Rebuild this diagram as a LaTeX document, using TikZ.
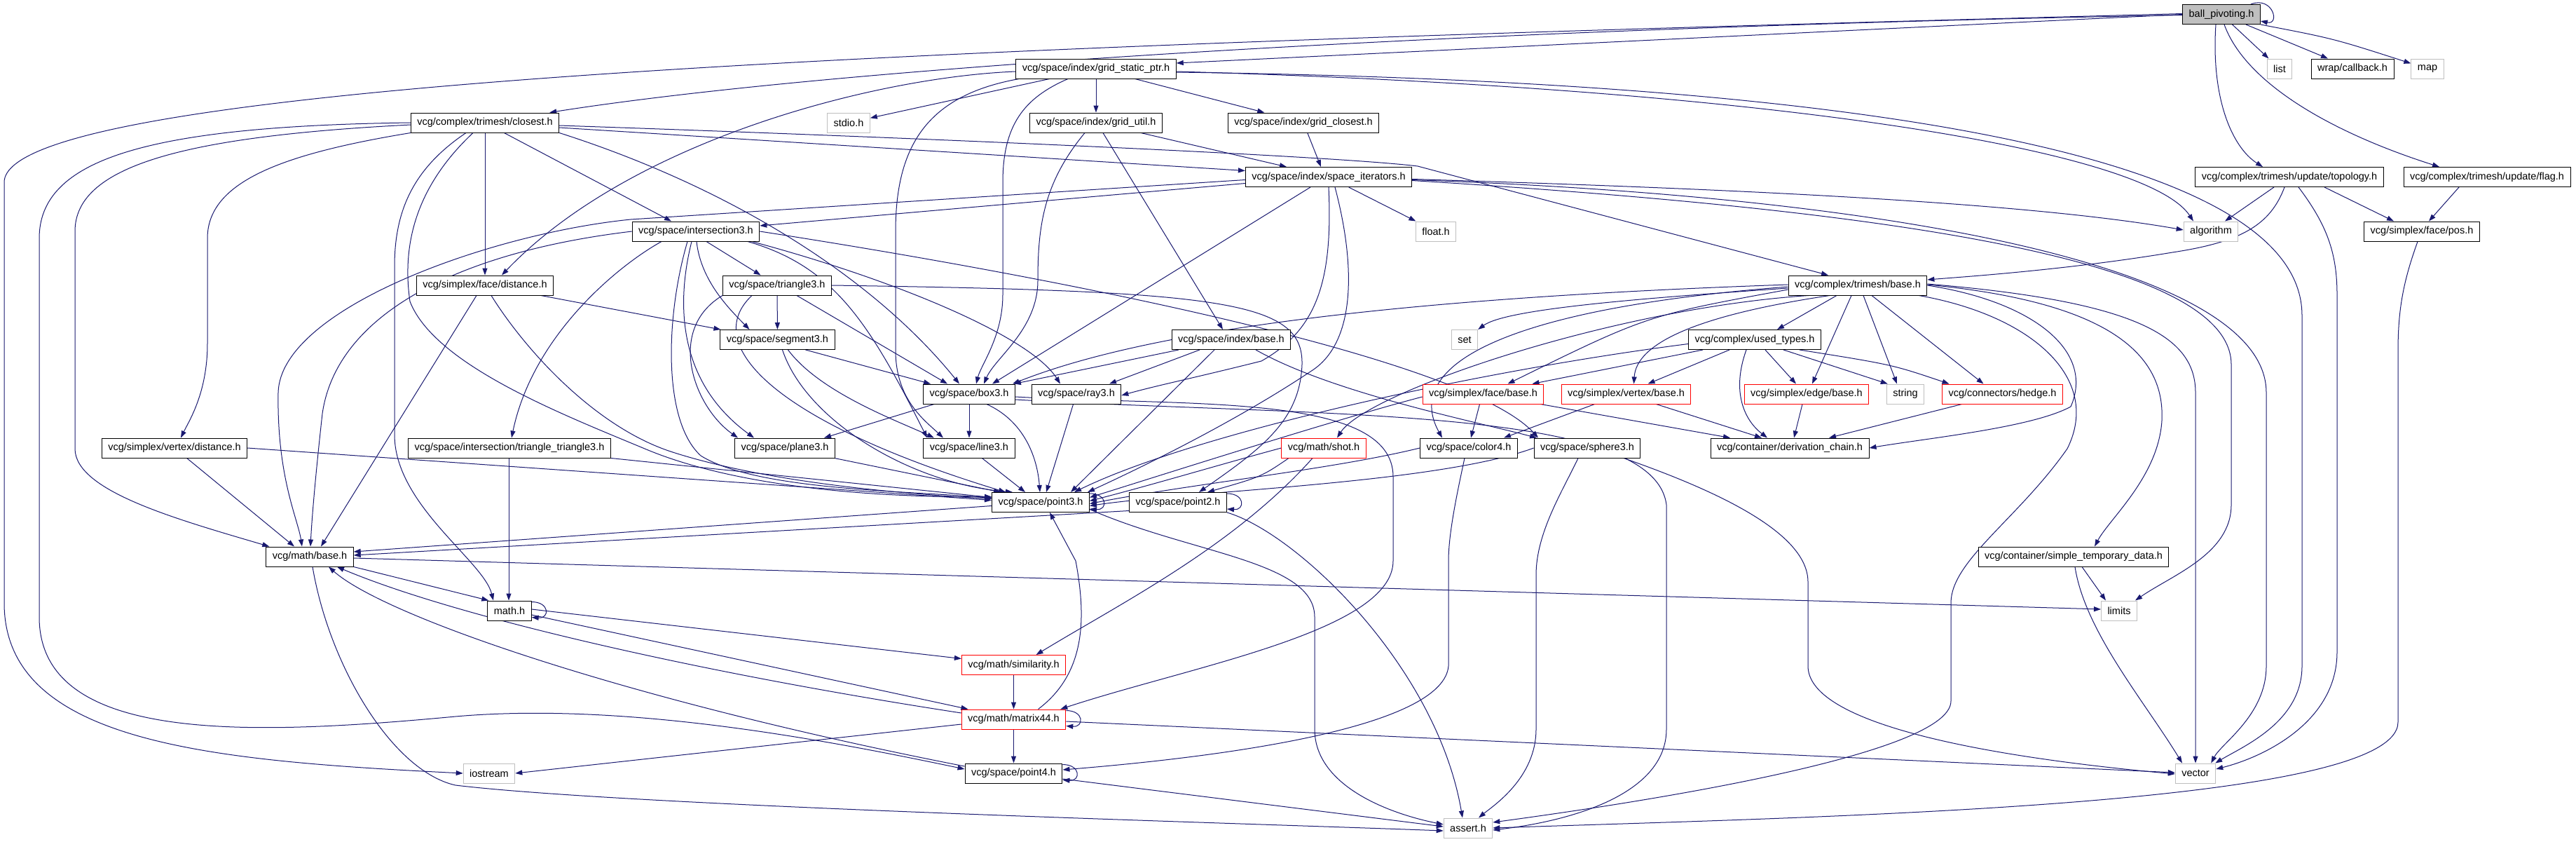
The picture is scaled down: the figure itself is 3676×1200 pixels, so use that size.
\documentclass[tikz,border=0pt]{standalone}
\usepackage{fontspec}
\setmainfont{Liberation Sans}
\usetikzlibrary{arrows.meta}
\definecolor{edgec}{HTML}{191970}
\definecolor{grayb}{HTML}{BFBFBF}
\definecolor{redb}{HTML}{FF0000}
\pgfdeclarelayer{bglayer}
\pgfdeclarelayer{edgelayer}
\pgfsetlayers{bglayer,edgelayer,main}
\tikzset{
  hbox/.style={draw=black, line width=1pt, fill=white, minimum height=28pt, inner xsep=9pt, inner ysep=0pt, font=\fontsize{14.5}{16}\selectfont},
  sysbox/.style={hbox, draw=grayb},
  trbox/.style={hbox, draw=redb},
  rootbox/.style={hbox, fill=grayb},
  dep/.style={draw=edgec, line width=1pt, -{Triangle[length=10pt,width=7pt]}},
}
\newcommand{\selfloopat}[1]{\draw[dep] ([yshift=-2pt]#1.north east) .. controls +(26,0) and +(26,2) .. ([yshift=5pt]#1.south east);}
\begin{document}
\begin{tikzpicture}[x=1pt,y=-1pt]
\begin{pgfonlayer}{bglayer}
\fill[white] (0,0) rectangle (3676,1200);
\end{pgfonlayer}
\useasboundingbox (0,0) rectangle (3676,1200);
% ---------- nodes ----------
\node[rootbox] (bp) at (3170,20.5) {ball\_pivoting.h};
\node[sysbox] (list) at (3253,98) {list};
\node[hbox] (callback) at (3357,98) {wrap/callback.h};
\node[sysbox] (map) at (3464,98) {map};
\node[hbox] (gsp) at (1564,98) {vcg/space/index/grid\_static\_ptr.h};
\node[hbox] (closest) at (692,175) {vcg/complex/trimesh/closest.h};
\node[sysbox] (stdio) at (1211,175) {stdio.h};
\node[hbox] (gridutil) at (1564,175) {vcg/space/index/grid\_util.h};
\node[hbox] (gridclosest) at (1860,175) {vcg/space/index/grid\_closest.h};
\node[hbox] (spaceiter) at (1896,252.5) {vcg/space/index/space\_iterators.h};
\node[hbox] (topology) at (3267,252.5) {vcg/complex/trimesh/update/topology.h};
\node[hbox] (flag) at (3549,252.5) {vcg/complex/trimesh/update/flag.h};
\node[hbox] (intersect) at (993,330) {vcg/space/intersection3.h};
\node[sysbox] (floath) at (2049,330) {float.h};
\node[sysbox] (algorithm) at (3155,330) {algorithm};
\node[hbox] (pos) at (3456,330) {vcg/simplex/face/pos.h};
\node[hbox] (tmbase) at (2651,407) {vcg/complex/trimesh/base.h};
\node[hbox] (facedist) at (692,407) {vcg/simplex/face/distance.h};
\node[hbox] (triangle) at (1109,407) {vcg/space/triangle3.h};
\node[hbox] (segment) at (1109.5,484.5) {vcg/space/segment3.h};
\node[hbox] (indexbase) at (1757,484.5) {vcg/space/index/base.h};
\node[sysbox] (setn) at (2090,484.5) {set};
\node[hbox] (usedtypes) at (2504,484.5) {vcg/complex/used\_types.h};
\node[hbox] (boxth) at (1383,562) {vcg/space/box3.h};
\node[hbox] (ray) at (1536,562) {vcg/space/ray3.h};
\node[trbox] (facebase) at (2116.5,562) {vcg/simplex/face/base.h};
\node[trbox] (vertexbase) at (2320.5,562) {vcg/simplex/vertex/base.h};
\node[trbox] (edgebase) at (2578,562) {vcg/simplex/edge/base.h};
\node[sysbox] (stringn) at (2719,562) {string};
\node[trbox] (hedge) at (2857.5,562) {vcg/connectors/hedge.h};
\node[hbox] (vertexdist) at (249,639) {vcg/simplex/vertex/distance.h};
\node[hbox] (tritri) at (727,639) {vcg/space/intersection/triangle\_triangle3.h};
\node[hbox] (planeth) at (1120,639) {vcg/space/plane3.h};
\node[hbox] (lineth) at (1383,639) {vcg/space/line3.h};
\node[trbox] (shot) at (1889,639) {vcg/math/shot.h};
\node[hbox] (colorf) at (2096,639) {vcg/space/color4.h};
\node[hbox] (sphere) at (2265,639) {vcg/space/sphere3.h};
\node[hbox] (derivchain) at (2554,639) {vcg/container/derivation\_chain.h};
\node[hbox] (pthree) at (1485,716.5) {vcg/space/point3.h};
\node[hbox] (ptwo) at (1681,716.5) {vcg/space/point2.h};
\node[hbox] (mathbase) at (442,794) {vcg/math/base.h};
\node[hbox] (simpletemp) at (2959,794) {vcg/container/simple\_temporary\_data.h};
\node[hbox] (mathh) at (727,871) {math.h};
\node[sysbox] (limits) at (3024,871) {limits};
\node[trbox] (similarity) at (1446.5,948.5) {vcg/math/similarity.h};
\node[trbox] (matrix) at (1446.5,1026) {vcg/math/matrix44.h};
\node[hbox] (pfour) at (1446.5,1103) {vcg/space/point4.h};
\node[sysbox] (iostream) at (698,1103) {iostream};
\node[sysbox] (vector) at (3133,1103) {vector};
\node[sysbox] (assert) at (2095,1181) {assert.h};
% ---------- edges ----------
\begin{pgfonlayer}{edgelayer}
% ball_pivoting.h
\draw[dep] ([xshift=-14pt]bp.north east) .. controls +(32,-12) and +(28,6) .. ([yshift=5pt]bp.south east);
\draw[dep] (bp) -- (list);
\draw[dep] (bp) -- (callback);
\draw[dep] (bp.south east) .. controls (3330,55) .. (map);
\draw[dep] ([xshift=-8pt]bp.south) .. controls (3155,140) and (3185,210) .. ([xshift=-38pt]topology.north);
\draw[dep] ([xshift=4pt]bp.south) .. controls (3205,120) and (3330,190) .. ([xshift=-68pt]flag.north);
\draw[dep] (bp.west) -- ([yshift=8pt]gsp.east);
\draw[dep] ([yshift=-1pt]bp.west) .. controls (2100,40) and (1200,95) .. ([xshift=-14pt]closest.north east);
\draw[dep] ([yshift=1pt]bp.west) .. controls (1500,62) and (6,110) .. (6,260) -- (6,860) .. controls (6,1060) and (300,1085) .. (iostream.west);
% grid_static_ptr.h
\draw[dep] (gsp) -- (stdio);
\draw[dep] (gsp) -- (gridutil);
\draw[dep] (gsp) -- (gridclosest);
\draw[dep] ([yshift=-4pt]gsp.east) .. controls (2500,125) and (3060,210) .. ([xshift=-25pt]algorithm.north);
\draw[dep] ([yshift=-5pt]gsp.east) .. controls (2600,115) and (3285,210) .. (3285,450) -- (3285,950) .. controls (3285,1030) and (3200,1065) .. ([xshift=-1pt]vector.north east);
\draw[dep] ([yshift=-4pt]gsp.west) .. controls (1250,110) and (900,200) .. ([xshift=24pt]facedist.north);
\draw[dep] ([xshift=-110pt]gsp.south) .. controls (1330,135) and (1278,200) .. (1278,330) -- (1278,500) .. controls (1278,570) and (1320,600) .. ([xshift=-37pt]lineth.north);
\draw[dep] ([xshift=-40pt]gsp.south) .. controls (1460,140) and (1431,180) .. (1431,260) -- (1431,420) .. controls (1431,480) and (1400,520) .. ([xshift=10pt]boxth.north);
% closest.h
\draw[dep] ([yshift=-4pt]closest.east) .. controls (1300,196) and (1900,222) .. (2023,237) -- ([xshift=-42pt]tmbase.north);
\draw[dep] ([yshift=-7pt]closest.east) -- ([yshift=9pt]spaceiter.west);
\draw[dep] (closest) -- ([xshift=-35pt]intersect.north);
\draw[dep] (closest) -- (facedist);
\draw[dep] (closest.south west) .. controls (400,220) and (296,260) .. (296,340) -- (296,490) .. controls (296,560) and (270,600) .. ([xshift=9pt]vertexdist.north);
\draw[dep] ([yshift=-3pt]closest.west) .. controls (250,195) and (107,240) .. (107,330) -- (107,640) .. controls (107,700) and (250,740) .. ([xshift=5pt]mathbase.north west);
\draw[dep] (closest.west) .. controls (200,180) and (56,230) .. (56,340) -- (56,880) .. controls (56,1060) and (350,1050) .. (650,1022) .. controls (900,1000) and (1200,1060) .. ([yshift=6pt]pfour.west);
\draw[dep] ([xshift=-27pt]closest.south) .. controls (590,240) and (563,300) .. (563,380) -- (563,620) .. controls (563,720) and (690,800) .. ([xshift=-23pt]mathh.north);
\draw[dep] ([xshift=-17pt]closest.south) .. controls (600,260) and (572,340) .. (585,430) .. controls (620,520) and (800,590) .. (920,640) .. controls (1050,695) and (1250,710) .. ([yshift=8pt]pthree.west);
\draw[dep] (closest.south east) .. controls (1050,270) and (1250,400) .. ([xshift=-14pt]boxth.north);
% face/distance.h
\draw[dep] ([xshift=-12pt]facedist.south) -- ([xshift=16pt]mathbase.north);
\draw[dep] ([xshift=9pt]facedist.south) .. controls (750,500) and (850,610) .. (960,645) .. controls (1100,690) and (1300,705) .. ([yshift=5pt]pthree.west);
\draw[dep] ([xshift=80pt]facedist.south) -- ([xshift=1pt]segment.north west);
% vertex/distance.h
\draw[dep] (vertexdist) -- ([xshift=-22pt]mathbase.north);
\draw[dep] (vertexdist.east) -- ([yshift=3pt]pthree.west);
% triangle_triangle3.h
\draw[dep] (tritri.south east) -- ([yshift=7pt]pthree.west);
\draw[dep] ([xshift=-1pt]tritri.south) -- ([xshift=-1pt]mathh.north);
% intersection3.h
\draw[dep] ([xshift=-49pt]intersect.south) .. controls (880,380) and (760,480) .. ([xshift=3pt]tritri.north);
\draw[dep] (intersect.west) .. controls (650,360) and (480,450) .. (460,590) .. controls (450,680) and (445,740) .. ([xshift=1pt]mathbase.north);
\draw[dep] ([xshift=15pt]intersect.south) -- (triangle);
\draw[dep] ([xshift=1pt]intersect.south) .. controls (1000,400) and (1040,440) .. ([xshift=-40pt]segment.north);
\draw[dep] ([xshift=-6pt]intersect.south) .. controls (968,420) and (960,540) .. ([xshift=-44pt]planeth.north);
\draw[dep] ([xshift=-12pt]intersect.south) .. controls (950,450) and (945,600) .. (1000,650) .. controls (1080,700) and (1300,700) .. ([yshift=6pt]pthree.west);
\draw[dep] ([xshift=74pt]intersect.south) .. controls (1190,380) and (1240,460) .. ([xshift=-60pt]lineth.north);
\draw[dep] ([xshift=80pt]intersect.south) .. controls (1280,400) and (1470,480) .. ([xshift=-23pt]ray.north);
\draw[dep] (intersect.east) .. controls (1600,410) and (2100,520) .. ([xshift=-70pt]sphere.north);
% triangle3.h
\draw[dep] (triangle) -- (segment);
\draw[dep] ([xshift=28pt]triangle.south) -- ([xshift=-31pt]boxth.north);
\draw[dep] (triangle.south west) .. controls (950,470) and (990,580) .. ([xshift=-67pt]planeth.north);
\draw[dep] ([xshift=-36pt]triangle.south) .. controls (1000,490) and (1100,600) .. ([xshift=-50pt]pthree.north);
\draw[dep] (triangle.east) .. controls (1750,415) and (1860,430) .. (1858,520) .. controls (1855,600) and (1800,640) .. ([xshift=30pt]ptwo.north);
% segment3.h
\draw[dep] ([xshift=40pt]segment.south) -- ([xshift=-55pt]boxth.north);
\draw[dep] ([xshift=15pt]segment.south) .. controls (1170,560) and (1280,600) .. ([xshift=-50pt]lineth.north);
\draw[dep] ([xshift=7pt]segment.south) .. controls (1150,600) and (1300,690) .. ([xshift=-40pt]pthree.north);
% box3.h
\draw[dep] ([xshift=-50pt]boxth.south) -- ([xshift=56pt]planeth.north);
\draw[dep] (boxth) -- (lineth);
\draw[dep] ([xshift=25pt]boxth.south) .. controls (1460,600) and (1480,650) .. ([xshift=-1pt]pthree.north);
\draw[dep] ([yshift=-4pt]boxth.east) .. controls (1700,580) and (1988,560) .. (1988,680) -- (1988,800) .. controls (1988,900) and (1700,950) .. ([xshift=-8pt]matrix.north east);
\draw[dep] ([yshift=-8pt]boxth.east) .. controls (1900,595) and (2360,580) .. (2378,720) -- (2378,1040) .. controls (2378,1130) and (2250,1170) .. ([yshift=-3pt]assert.east);
% ray3, plane3, line3
\draw[dep] (ray) -- ([xshift=8pt]pthree.north);
\draw[dep] (planeth) -- ([xshift=-57pt]pthree.north);
\draw[dep] (lineth) -- ([xshift=-22pt]pthree.north);
% index/base.h
\draw[dep] ([xshift=-75pt]indexbase.south) -- ([xshift=-2pt]boxth.north east);
\draw[dep] ([xshift=-45pt]indexbase.south) -- ([xshift=47pt]ray.north);
\draw[dep] ([xshift=-24pt]indexbase.south) -- ([xshift=43pt]pthree.north);
\draw[dep] ([xshift=35pt]indexbase.south) .. controls (1900,560) and (2100,600) .. ([xshift=-72pt]sphere.north);
% grid_util.h, grid_closest.h
\draw[dep] ([xshift=64pt]gridutil.south) -- ([xshift=-60pt]spaceiter.north);
\draw[dep] ([xshift=-16pt]gridutil.south) .. controls (1490,260) and (1481,320) .. (1481,400) .. controls (1481,470) and (1420,510) .. ([xshift=21pt]boxth.north);
\draw[dep] ([xshift=10pt]gridutil.south) -- ([xshift=-12pt]indexbase.north);
\draw[dep] (gridclosest) -- ([xshift=-11pt]spaceiter.north);
% space_iterators.h
\draw[dep] ([yshift=-9pt]spaceiter.west) -- ([yshift=8pt]intersect.east);
\draw[dep] ([yshift=-4pt]spaceiter.west) -- (900,313) .. controls (700,333) and (400,440) .. (397,560) .. controls (395,680) and (425,740) .. ([xshift=-11pt]mathbase.north);
\draw[dep] (spaceiter) -- (floath);
\draw[dep] ([yshift=-3pt]spaceiter.east) .. controls (2500,270) and (2900,290) .. ([yshift=2pt]algorithm.west);
\draw[dep] ([yshift=-5pt]spaceiter.east) .. controls (2700,300) and (3184,370) .. (3184,520) -- (3184,720) .. controls (3184,790) and (3100,820) .. ([xshift=-3pt]limits.north east);
\draw[dep] ([yshift=-4pt]spaceiter.east) .. controls (2700,280) and (3234,380) .. (3234,560) -- (3234,950) .. controls (3234,1020) and (3170,1060) .. ([xshift=-7pt]vector.north east);
\draw[dep] ([xshift=-26pt]spaceiter.south) -- ([xshift=33pt]boxth.north);
\draw[dep] (spaceiter.south) .. controls (1902,400) and (1880,470) .. (1800,515) .. controls (1700,540) and (1650,550) .. ([yshift=-2pt]ray.east);
\draw[dep] ([xshift=9pt]spaceiter.south) .. controls (1935,380) and (1935,490) .. (1870,530) .. controls (1750,610) and (1600,680) .. ([xshift=-3pt]pthree.north east);
% topology.h, flag.h, pos.h
\draw[dep] ([xshift=-22pt]topology.south) -- ([xshift=20pt]algorithm.north);
\draw[dep] ([xshift=50pt]topology.south) -- ([xshift=-40pt]pos.north);
\draw[dep] ([xshift=13pt]topology.south) .. controls (3320,320) and (3335,360) .. (3335,420) -- (3335,930) .. controls (3335,1030) and (3230,1080) .. ([yshift=6pt]vector.east);
\draw[dep] ([xshift=-7pt]topology.south) .. controls (3240,320) and (3200,345) .. (3100,360) .. controls (2950,385) and (2800,395) .. ([yshift=8pt]tmbase.east);
\draw[dep] ([xshift=-40pt]flag.south) -- ([xshift=10pt]pos.north);
\draw[dep] ([xshift=-6pt]pos.south) .. controls (3430,400) and (3422,440) .. (3422,500) -- (3422,1030) .. controls (3422,1150) and (2600,1165) .. (assert.east);
% trimesh/base.h
\draw[dep] ([yshift=-4pt]tmbase.west) .. controls (2350,425) and (2150,440) .. (setn.north east);
\draw[dep] ([yshift=1pt]tmbase.west) .. controls (2000,425) and (1640,470) .. ([xshift=-4pt]boxth.north east);
\draw[dep] ([yshift=-6pt]tmbase.west) .. controls (2350,450) .. ([xshift=35pt]facebase.north);
\draw[dep] ([xshift=-40pt]tmbase.south) .. controls (2420,450) and (2335,490) .. ([xshift=11pt]vertexbase.north);
\draw[dep] ([xshift=-70pt]tmbase.south) .. controls (2300,440) and (1950,560) .. ([xshift=19pt]shot.north);
\draw[dep] ([yshift=-2pt]tmbase.west) .. controls (2150,440) and (2000,520) .. ([xshift=-38pt]colorf.north);
\draw[dep] ([xshift=-30pt]tmbase.south) -- ([xshift=32pt]usedtypes.north);
\draw[dep] ([xshift=-9pt]tmbase.south) -- ([xshift=8pt]edgebase.north);
\draw[dep] ([xshift=8pt]tmbase.south) -- ([xshift=-12pt]stringn.north);
\draw[dep] ([xshift=20pt]tmbase.south) -- ([xshift=-27pt]hedge.north);
\draw[dep] (tmbase.east) .. controls (2900,430) and (2990,500) .. (2955,580) .. controls (2900,610) and (2750,625) .. (derivchain.east);
\draw[dep] ([yshift=1pt]tmbase.east) .. controls (3000,430) and (3090,500) .. (3085,600) .. controls (3080,680) and (3010,740) .. ([xshift=30pt]simpletemp.north);
\draw[dep] ([yshift=2pt]tmbase.east) .. controls (3050,430) and (3133,480) .. (3133,560) -- (vector.north);
\draw[dep] ([xshift=-12pt]tmbase.south east) .. controls (2900,450) and (3000,540) .. (2950,640) .. controls (2880,740) and (2784,800) .. (2784,860) -- (2784,1000) .. controls (2784,1080) and (2300,1150) .. ([yshift=8pt]assert.east);
% used_types.h
\draw[dep] ([yshift=-6pt]usedtypes.west) .. controls (2100,530) and (1700,620) .. ([xshift=48pt]pthree.north);
\draw[dep] ([xshift=-74pt]usedtypes.south) -- ([xshift=70pt]facebase.north);
\draw[dep] ([xshift=-36pt]usedtypes.south) -- ([xshift=31pt]vertexbase.north);
\draw[dep] ([xshift=-12pt]usedtypes.south) .. controls (2470,560) and (2490,600) .. ([xshift=-32pt]derivchain.north);
\draw[dep] ([xshift=15pt]usedtypes.south) -- ([xshift=-15pt]edgebase.north);
\draw[dep] ([xshift=41pt]usedtypes.south) -- ([xshift=2pt]stringn.north west);
\draw[dep] ([xshift=64pt]usedtypes.south) .. controls (2700,520) .. ([xshift=-76pt]hedge.north);
% face/base.h, vertex/base.h, edge/base.h, hedge.h
\draw[dep] ([xshift=-5pt]facebase.south) -- ([xshift=3pt]colorf.north);
\draw[dep] ([xshift=82pt]facebase.south) -- ([xshift=-85pt]derivchain.north);
\draw[dep] ([yshift=-4pt]facebase.west) .. controls (1900,600) and (1650,680) .. ([yshift=7pt]pthree.east);
\draw[dep] ([xshift=-45pt]vertexbase.south) -- ([xshift=50pt]colorf.north);
\draw[dep] ([xshift=43pt]vertexbase.south) -- ([xshift=-40pt]derivchain.north);
\draw[dep] ([xshift=-6pt]edgebase.south) -- ([xshift=6pt]derivchain.north);
\draw[dep] ([xshift=-58pt]hedge.south) -- ([xshift=56pt]derivchain.north);
% shot.h
\draw[dep] ([xshift=-16pt]shot.south) .. controls (1760,780) and (1600,860) .. ([xshift=32pt]similarity.north);
\draw[dep] (shot.west) .. controls (1750,660) and (1650,690) .. ([yshift=2pt]pthree.east);
\draw[dep] ([xshift=-50pt]shot.south) .. controls (1800,680) .. ([xshift=42pt]ptwo.north);
% color4.h
\draw[dep] (colorf.west) .. controls (1900,670) and (1700,690) .. ([yshift=-2pt]pthree.east);
\draw[dep] ([xshift=-6pt]colorf.south) .. controls (2080,700) and (2067,760) .. (2067,800) -- (2067,950) .. controls (2060,1030) and (1800,1075) .. ([yshift=5pt]pfour.east);
% sphere3.h
\draw[dep] (sphere.west) .. controls (2050,690) and (1700,700) .. ([yshift=-5pt]pthree.east);
\draw[dep] ([xshift=-13pt]sphere.south) .. controls (2230,700) and (2192,760) .. (2192,820) -- (2192,1040) .. controls (2192,1110) and (2130,1150) .. ([xshift=15pt]assert.north);
\draw[dep] ([xshift=52pt]sphere.south) .. controls (2450,700) and (2580,760) .. (2580,830) -- (2580,950) .. controls (2580,1050) and (2950,1090) .. ([yshift=-1pt]vector.west);
% point3.h
\selfloopat{pthree}
\draw[dep] ([yshift=-5pt]pthree.west) -- ([yshift=7pt]mathbase.east);
\draw[dep] ([yshift=-10pt]pthree.east) .. controls (1700,790) and (1876,800) .. (1876,880) -- (1876,1040) .. controls (1876,1120) and (1980,1160) .. ([yshift=5pt]assert.west);
% point2.h
\selfloopat{ptwo}
\draw[dep] ([yshift=-12pt]ptwo.west) -- ([yshift=2pt]mathbase.east);
\draw[dep] (ptwo.south east) .. controls (1850,760) and (2050,950) .. ([xshift=-8pt]assert.north);
% math/base.h
\draw[dep] ([yshift=-2pt]mathbase.east) -- ([yshift=2pt]limits.west);
\draw[dep] (mathbase.south east) -- ([xshift=2pt]mathh.north west);
\draw[dep] ([xshift=4pt]mathbase.south) .. controls (470,950) and (560,1100) .. (650,1120) .. controls (900,1150) and (1800,1175) .. ([yshift=-4pt]assert.west);
% math.h
\selfloopat{mathh}
\draw[dep] ([yshift=2pt]mathh.east) -- ([yshift=9pt]similarity.west);
\draw[dep] ([yshift=-6pt]mathh.east) -- ([xshift=-65pt]matrix.north);
% similarity.h
\draw[dep] (similarity) -- (matrix);
% matrix44.h
\selfloopat{matrix}
\draw[dep] (matrix) -- (pfour);
\draw[dep] ([yshift=9pt]matrix.west) .. controls (1000,960) and (650,880) .. ([xshift=39pt]mathbase.south);
\draw[dep] ([yshift=-7pt]matrix.west) -- (iostream.east);
\draw[dep] ([xshift=35pt]matrix.north) .. controls (1550,960) and (1550,880) .. (1535,800) -- ([xshift=13pt]pthree.south);
\draw[dep] ([yshift=-3pt]matrix.east) -- ([yshift=1pt]vector.west);
% point4.h
\selfloopat{pfour}
\draw[dep] ([yshift=10pt]pfour.west) .. controls (900,1000) and (550,880) .. ([xshift=27pt]mathbase.south);
\draw[dep] ([yshift=-8pt]pfour.east) -- ([yshift=2pt]assert.west);
% simple_temporary_data.h
\draw[dep] ([xshift=12pt]simpletemp.south) -- ([xshift=-19pt]limits.north);
\draw[dep] ([xshift=2pt]simpletemp.south) .. controls (2975,900) and (3060,1000) .. ([xshift=-19pt]vector.north);
\end{pgfonlayer}
\end{tikzpicture}
\end{document}
